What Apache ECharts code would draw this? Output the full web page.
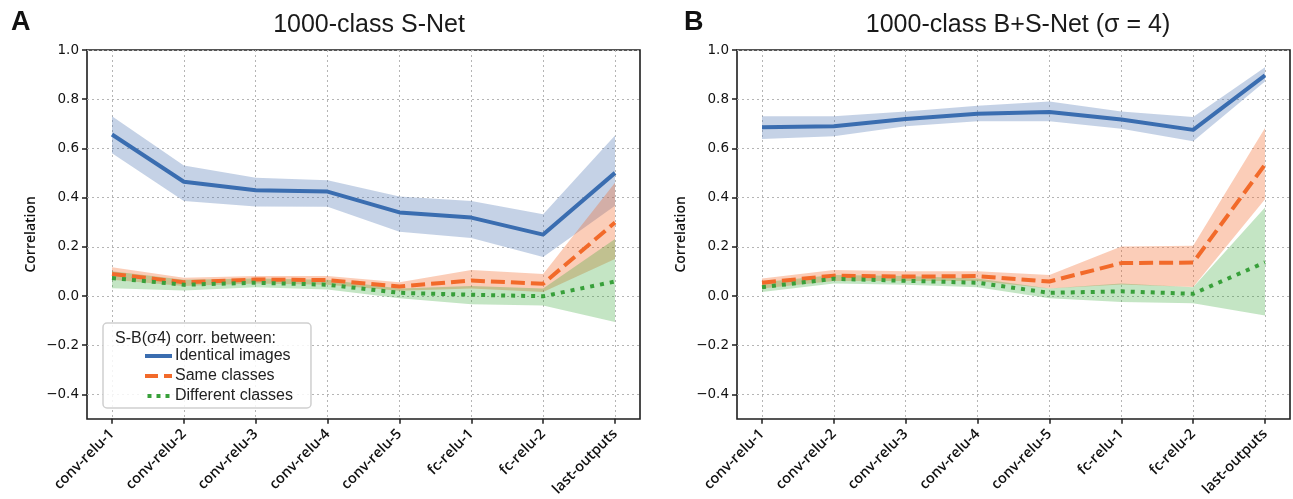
<!DOCTYPE html>
<html>
<head>
<meta charset="utf-8">
<title>S-Net correlation</title>
<script src="https://cdn.jsdelivr.net/npm/echarts@6/dist/echarts.min.js"></script>
<style>
    html, body { margin: 0; padding: 0; background: #fff; }
    #chart { width: 1293px; height: 499px; }
</style>
</head>
<body>
<div id="chart"></div>
<script>
// layer names on the x axis
const categories = ['conv-relu-1', 'conv-relu-2', 'conv-relu-3', 'conv-relu-4',
    'conv-relu-5', 'fc-relu-1', 'fc-relu-2', 'last-outputs'];
const yTicks = [-0.4, -0.2, 0.0, 0.2, 0.4, 0.6, 0.8, 1.0];

// A: 1000-class S-Net
const aIdent = [0.656, 0.464, 0.429, 0.424, 0.339, 0.318, 0.249, 0.500];
const aIdentLo = [0.580, 0.386, 0.363, 0.362, 0.260, 0.235, 0.158, 0.366];
const aIdentHi = [0.730, 0.530, 0.480, 0.470, 0.404, 0.386, 0.332, 0.652];
const aSame = [0.089, 0.055, 0.066, 0.064, 0.038, 0.062, 0.049, 0.298];
const aSameLo = [0.065, 0.040, 0.050, 0.045, 0.020, 0.030, 0.015, 0.150];
const aSameHi = [0.116, 0.073, 0.080, 0.080, 0.055, 0.105, 0.089, 0.460];
const aDiff = [0.072, 0.045, 0.053, 0.045, 0.012, 0.004, -0.002, 0.058];
const aDiffLo = [0.031, 0.021, 0.035, 0.026, -0.010, -0.034, -0.040, -0.107];
const aDiffHi = [0.100, 0.065, 0.070, 0.065, 0.030, 0.040, 0.030, 0.231];

// B: 1000-class B+S-Net (sigma = 4)
const bIdent = [0.686, 0.690, 0.719, 0.741, 0.748, 0.717, 0.675, 0.897];
const bIdentLo = [0.638, 0.649, 0.690, 0.710, 0.710, 0.680, 0.629, 0.872];
const bIdentHi = [0.730, 0.730, 0.750, 0.773, 0.790, 0.750, 0.727, 0.930];
const bSame = [0.053, 0.082, 0.078, 0.080, 0.058, 0.133, 0.135, 0.534];
const bSameLo = [0.030, 0.060, 0.060, 0.060, 0.030, 0.046, 0.036, 0.393];
const bSameHi = [0.070, 0.105, 0.100, 0.100, 0.085, 0.200, 0.204, 0.683];
const bDiff = [0.035, 0.069, 0.061, 0.053, 0.012, 0.018, 0.008, 0.136];
const bDiffLo = [0.015, 0.050, 0.045, 0.035, -0.010, -0.025, -0.030, -0.080];
const bDiffHi = [0.055, 0.085, 0.080, 0.070, 0.030, 0.050, 0.035, 0.359];

const names = ['Identical images', 'Same classes', 'Different classes'];
const lineColors = ['#3a6db0', '#f26a2a', '#38a03a'];
const bandColors = ['rgba(76,114,176,0.32)', 'rgba(242,101,34,0.32)', 'rgba(44,160,44,0.28)'];
const lineTypes = ['solid', [14, 6], [4, 6]];
// legend samples: solid, "- -", ". . ."
const legendIcons = [
    'path://M0,0H27V4H0Z',
    'path://M0,0H13V4H0Z M19,0H27V4H19Z',
    'path://M0,0H4V4H0Z M9,0H13V4H9Z M18,0H22V4H18Z'
];

const TOP = 50, H = 369;
const gridLine = { show: true, lineStyle: { color: '#b5b5b5', type: [2, 3], width: 1 } };
const tickFont = { fontFamily: 'DejaVu Sans', fontSize: 13.5, color: '#111' };
const axisFont = { fontFamily: 'Open Sans', fontWeight: 600, color: '#111' };

// three grids per panel: frame, y labels (-0.4..1.0), data (inset like matplotlib margins)
function panelGrids(left) {
    return [
        { left: left, top: TOP, width: 553, height: H, show: true, borderColor: '#1e1e1e', borderWidth: 1.6, backgroundColor: 'transparent' },
        { left: left, top: TOP, width: 553, height: H * 1.4 / 1.5 },
        { left: left + 25, top: TOP, width: 503, height: H }
    ];
}

function panelX(g) {
    return [
        { type: 'value', gridIndex: g, show: false, min: 0, max: 1 },
        { type: 'value', gridIndex: g + 1, show: false, min: 0, max: 1 },
        {
            type: 'category', gridIndex: g + 2, data: categories, boundaryGap: false,
            axisLine: { show: false, onZero: false },
            axisTick: { show: true, length: 5, lineStyle: { color: '#1e1e1e', width: 1.5 } },
            splitLine: gridLine,
            axisLabel: Object.assign({ rotate: 45, margin: 13, fontSize: 14.5 }, axisFont)
        }
    ];
}

function panelY(g) {
    return [
        { type: 'value', gridIndex: g, show: false, min: -0.5, max: 1.0 },
        {
            type: 'value', gridIndex: g + 1, min: yTicks[0], max: yTicks[yTicks.length - 1], interval: 0.2,
            axisLine: { show: false },
            axisTick: { show: true, length: 5, lineStyle: { color: '#1e1e1e', width: 1.5 } },
            splitLine: gridLine,
            axisLabel: Object.assign({
                margin: 8,
                formatter: v => v.toFixed(1).replace('-', '\u2212')
            }, tickFont)
        },
        {
            type: 'value', gridIndex: g + 2, min: -0.5, max: 1.0,
            axisLine: { show: false }, axisTick: { show: false }, axisLabel: { show: false }, splitLine: { show: false },
            name: 'Correlation', nameLocation: 'middle', nameGap: 74, nameRotate: 90,
            nameTextStyle: Object.assign({ fontSize: 14 }, axisFont)
        }
    ];
}

// band = invisible lower line + stacked (hi - lo) with area fill
function panelSeries(axis, tag, lines, los, his) {
    const out = [];
    lines.forEach((vals, i) => {
        const st = tag + i;
        out.push({
            type: 'line', xAxisIndex: axis, yAxisIndex: axis, stack: st, stackStrategy: 'all',
            data: los[i], symbol: 'none', silent: true, lineStyle: { opacity: 0 }, z: 1
        });
        out.push({
            type: 'line', xAxisIndex: axis, yAxisIndex: axis, stack: st, stackStrategy: 'all',
            data: his[i].map((h, k) => +(h - los[i][k]).toFixed(3)),
            symbol: 'none', silent: true, lineStyle: { opacity: 0 },
            areaStyle: { color: bandColors[i], opacity: 1 }, z: 1
        });
    });
    lines.forEach((vals, i) => {
        out.push({
            name: names[i], type: 'line', xAxisIndex: axis, yAxisIndex: axis,
            data: vals, symbol: 'none', z: 5 + i,
            itemStyle: { color: lineColors[i] },
            lineStyle: { color: lineColors[i], width: 4, type: lineTypes[i], cap: 'butt' }
        });
    });
    return out;
}

const chart = echarts.init(document.getElementById('chart'), null, { renderer: 'canvas' });

const titleFont = { fontFamily: 'Liberation Sans', fontWeight: 'normal', fontSize: 25, color: '#1a1a1a' };
const letterFont = { fontFamily: 'Liberation Sans', fontWeight: 'bold', fontSize: 27, color: '#111' };

const option = {
    animation: false,
    backgroundColor: '#fff',
    title: [
        { text: 'A', left: 6, top: 4, textStyle: letterFont },
        { text: '1000-class S-Net', left: 364, top: 8, textAlign: 'center', textStyle: titleFont },
        { text: 'B', left: 679, top: 4, textStyle: letterFont },
        { text: '1000-class B+S-Net (\u03c3 = 4)', left: 1013, top: 8, textAlign: 'center', textStyle: titleFont },
        { text: 'S-B(\u03c34) corr. between:', left: 110, top: 326, textStyle: { fontFamily: 'Liberation Sans', fontWeight: 'normal', fontSize: 16, color: '#222' } }
    ],
    legend: {
        data: names.map((n, i) => ({ name: n, icon: legendIcons[i], itemStyle: { color: lineColors[i] } })),
        orient: 'vertical',
        left: 103, top: 323,
        padding: [25, 18, 4, 42],
        itemGap: 4, itemWidth: 27, itemHeight: 4,
        backgroundColor: 'rgba(255,255,255,0.85)',
        borderColor: '#cfcfcf', borderWidth: 1.5, borderRadius: 4,
        textStyle: { fontFamily: 'Liberation Sans', fontSize: 16, color: '#222', padding: [0, 0, 0, -2] }
    },
    grid: panelGrids(87).concat(panelGrids(737)),
    xAxis: panelX(0).concat(panelX(3)),
    yAxis: panelY(0).concat(panelY(3)),
    series: panelSeries(2, 'a', [aIdent, aSame, aDiff], [aIdentLo, aSameLo, aDiffLo], [aIdentHi, aSameHi, aDiffHi])
        .concat(panelSeries(5, 'b', [bIdent, bSame, bDiff], [bIdentLo, bSameLo, bDiffLo], [bIdentHi, bSameHi, bDiffHi]))
};

chart.setOption(option);
window.addEventListener('resize', function () {
    chart.resize();
});
</script>
</body>
</html>
